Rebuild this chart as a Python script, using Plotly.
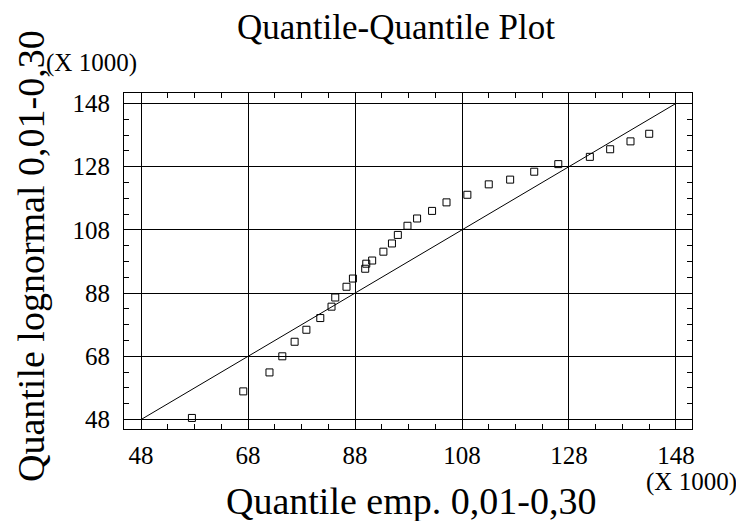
import plotly.graph_objects as go

# Values in thousands (axes labelled "(X 1000)")
x_emp = [57.5, 67.1, 72.0, 74.4, 76.7, 78.9, 81.5, 83.6, 84.3, 86.4,
         87.6, 89.9, 90.1, 91.2, 93.3, 94.9, 96.0, 97.8, 99.6, 102.4,
         105.1, 109.0, 113.0, 117.0, 121.5, 126.0, 131.9, 135.7, 139.5, 143.0]
y_logn = [48.5, 56.9, 62.9, 68.0, 72.6, 76.4, 80.1, 83.7, 86.6, 90.0,
          92.6, 95.7, 97.3, 98.3, 101.1, 103.7, 106.4, 109.3, 111.6, 114.0,
          116.7, 119.1, 122.4, 123.9, 126.4, 128.8, 131.1, 133.5, 136.0, 138.4]
ref_line = [48, 148]
tick_vals = [48, 68, 88, 108, 128, 148]
tick_text = ["48", "68", "88", "108", "128", "148"]

FONT = "Liberation Serif, Times New Roman, serif"
OFF = 8  # default page body margin
W, H = 744 - OFF, 521 - OFF
L, R, T, B = 124 - OFF, 692 - OFF, 93 - OFF, 429 - OFF

fig = go.Figure()
fig.add_trace(go.Scatter(x=ref_line, y=ref_line, mode="lines",
                         line=dict(color="black", width=1), showlegend=False,
                         hoverinfo="skip"))
fig.add_trace(go.Scatter(x=x_emp, y=y_logn, mode="markers",
                         marker=dict(symbol="square-open", size=7, color="black",
                                     line=dict(width=1, color="black")),
                         showlegend=False))

axis_common = dict(
    tickvals=tick_vals, ticktext=tick_text,
    showgrid=True, gridcolor="black", gridwidth=1,
    showline=True, linecolor="black", linewidth=1, mirror="allticks",
    ticks="", zeroline=False,
    tickfont=dict(family=FONT, size=25, color="black"),
    minor=dict(dtick=5, tick0=48, ticks="inside", ticklen=5,
               tickcolor="black", showgrid=False),
)

fig.update_layout(
    width=W, height=H,
    margin=dict(l=L, r=W - R, t=T, b=H - B),
    paper_bgcolor="white", plot_bgcolor="white",
    font=dict(family=FONT, color="black"),
    xaxis=dict(range=[44.8, 151.0], ticklabelstandoff=4, **axis_common),
    yaxis=dict(range=[45.0, 151.3], ticklabelstandoff=8, **axis_common),
)

def px_x(p):
    return (p - OFF - L) / (R - L)

def px_y(p):
    return (B - (p - OFF)) / (B - T)

annos = [
    dict(text="Quantile-Quantile Plot", x=px_x(396), y=px_y(27), size=35, angle=0),
    dict(text="Quantile emp. 0,01-0,30", x=px_x(411), y=px_y(501), size=38, angle=0),
    dict(text="Quantile lognormal 0,01-0,30", x=px_x(31), y=px_y(256), size=38, angle=-90),
    dict(text="(X 1000)", x=px_x(91), y=px_y(63), size=25, angle=0),
    dict(text="(X 1000)", x=px_x(691), y=px_y(482), size=25, angle=0),
]
for a in annos:
    fig.add_annotation(text=a["text"], x=a["x"], y=a["y"], xref="paper", yref="paper",
                       xanchor="center", yanchor="middle", showarrow=False,
                       textangle=a["angle"],
                       font=dict(family=FONT, size=a["size"], color="black"))

fig.write_html("out.html")
